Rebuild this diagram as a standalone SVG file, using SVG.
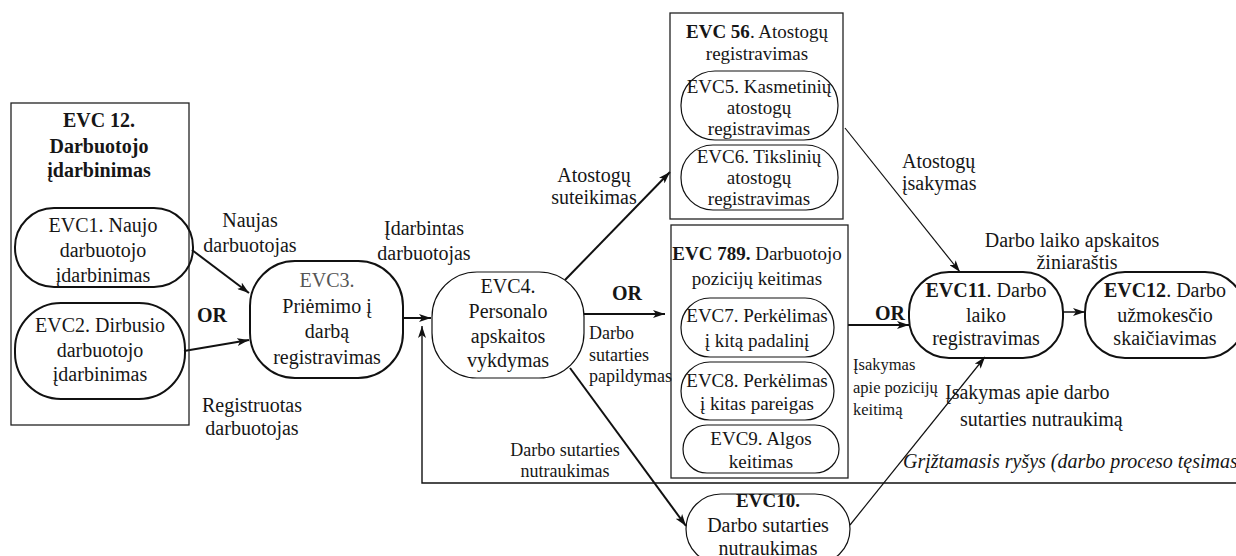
<svg xmlns="http://www.w3.org/2000/svg" width="1236" height="556" viewBox="0 0 1236 556" font-family="'Liberation Serif', 'Times New Roman', serif">
  <defs>
    <marker id="ah" viewBox="0 0 12 8" refX="12" refY="4" markerWidth="12" markerHeight="8" markerUnits="userSpaceOnUse" orient="auto">
      <path d="M0,0 L12,4 L0,8 L3,4 z" fill="#111"/>
    </marker>
    <style>
      text { font-family: 'Liberation Serif', 'Times New Roman', serif; font-size: 20px; fill: #161616; text-anchor: middle; }
      .s { font-size: 19px; }
      .xs { font-size: 18px; }
      .sm { font-size: 16.5px; }
      .l { text-anchor: start; }
      .b { font-weight: bold; }
      .i { font-style: italic; }
      .g { fill: #555; }
      .frame { fill: none; stroke: #222; stroke-width: 1.3; }
      .thick { fill: none; stroke: #111; stroke-width: 2; }
      .thin { fill: none; stroke: #111; stroke-width: 1.2; }
      .c2 { fill: none; stroke: #111; stroke-width: 2; marker-end: url(#ah); }
      .c1 { fill: none; stroke: #111; stroke-width: 1.2; marker-end: url(#ah); }
    </style>
  </defs>

  <rect width="1236" height="556" fill="#fff"/>

  <!-- connectors -->
  <g id="connectors">
    <path class="c2" d="M192,250 L249,293"/>
    <path class="c2" d="M184,351 L249,340"/>
    <path class="c2" d="M403,318 L431,318"/>
    <path class="c1" style="stroke-width:1.4" d="M1240,483 L422,483 L422,326"/>
    <path class="c2" d="M565,280 L670,172"/>
    <path class="c2" d="M584,314 L665,314"/>
    <path class="c2" d="M570,368 L686,526"/>
    <path class="c2" d="M848,325 L909,325"/>
    <path class="c1" d="M845,128 L960,272"/>
    <path class="c1" d="M850,525 L985,357"/>
    <path class="c1" style="stroke-width:1.5" d="M1063,312 L1085,312"/>
  </g>

  <!-- connector labels -->
  <g id="labels">
    <text x="250" y="227">Naujas</text>
    <text x="250" y="252">darbuotojas</text>
    <text class="b l" x="197" y="322">OR</text>
    <text x="252" y="412">Registruotas</text>
    <text x="252" y="435">darbuotojas</text>
    <text x="424" y="235">Įdarbintas</text>
    <text x="424" y="260">darbuotojas</text>
    <text x="594" y="182">Atostogų</text>
    <text x="594" y="204">suteikimas</text>
    <text class="b l" x="612" y="300">OR</text>
    <text class="xs l" x="589" y="339">Darbo</text>
    <text class="xs l" x="589" y="361">sutarties</text>
    <text class="xs l" x="589" y="382">papildymas</text>
    <text class="xs" x="565" y="456">Darbo sutarties</text>
    <text class="xs" x="565" y="477">nutraukimas</text>
    <text class="l" x="902" y="168">Atostogų</text>
    <text class="l" x="902" y="190">įsakymas</text>
    <text x="1072" y="247">Darbo laiko apskaitos</text>
    <text x="1077" y="269">žiniaraštis</text>
    <text class="b l" x="875" y="320">OR</text>
    <text class="sm l" x="853" y="370">Įsakymas</text>
    <text class="sm l" x="853" y="393">apie pozicijų</text>
    <text class="sm l" x="853" y="415">keitimą</text>
    <text class="l" x="945" y="399">Įsakymas apie darbo</text>
    <text class="l" x="960" y="426">sutarties nutraukimą</text>
    <text class="i l" x="903" y="468">Grįžtamasis ryšys (darbo proceso tęsimas)</text>
  </g>

  <!-- EVC 12 group frame -->
  <g id="evc12-group">
    <rect class="frame" x="11" y="103" width="178" height="322"/>
    <text class="b" x="99" y="127">EVC 12.</text>
    <text class="b" x="99" y="153">Darbuotojo</text>
    <text class="b" x="99" y="177">įdarbinimas</text>
  </g>

  <g id="evc1">
    <rect class="thick" x="15" y="208" width="178" height="79" rx="39" ry="39"/>
    <text x="103" y="232">EVC1. Naujo</text>
    <text x="103" y="257">darbuotojo</text>
    <text x="103" y="282">įdarbinimas</text>
  </g>

  <g id="evc2">
    <rect class="thick" x="15" y="303" width="170" height="96" rx="46" ry="46"/>
    <text x="100" y="332">EVC2. Dirbusio</text>
    <text x="100" y="357">darbuotojo</text>
    <text x="100" y="381">įdarbinimas</text>
  </g>

  <g id="evc3">
    <rect class="thick" x="250" y="261" width="153" height="117" rx="45" ry="45"/>
    <text class="g" x="327" y="287">EVC3.</text>
    <text x="327" y="313">Priėmimo į</text>
    <text x="327" y="338">darbą</text>
    <text x="327" y="364">registravimas</text>
  </g>

  <g id="evc4">
    <rect class="thin" x="432" y="272" width="152" height="106" rx="45" ry="45"/>
    <text x="508" y="293">EVC4.</text>
    <text x="508" y="318">Personalo</text>
    <text x="508" y="343">apskaitos</text>
    <text x="508" y="367">vykdymas</text>
  </g>

  <!-- EVC 56 group frame -->
  <g id="evc56-group">
    <rect class="frame" x="670" y="13" width="173" height="206"/>
    <text class="s" x="757" y="38"><tspan class="b">EVC 56</tspan>. Atostogų</text>
    <text class="s" x="757" y="60">registravimas</text>
  </g>

  <g id="evc5">
    <rect class="thin" x="681" y="71" width="157" height="69" rx="34" ry="34"/>
    <text class="s" x="759" y="93">EVC5. Kasmetinių</text>
    <text class="s" x="759" y="114">atostogų</text>
    <text class="s" x="759" y="135">registravimas</text>
  </g>

  <g id="evc6">
    <rect class="thin" x="681" y="145" width="157" height="65" rx="32" ry="32"/>
    <text class="s" x="759" y="163">EVC6. Tikslinių</text>
    <text class="s" x="759" y="184">atostogų</text>
    <text class="s" x="759" y="205">registravimas</text>
  </g>

  <!-- EVC 789 group frame -->
  <g id="evc789-group">
    <rect class="frame" x="671" y="225" width="177" height="253"/>
    <text class="s" x="757" y="260"><tspan class="b">EVC 789.</tspan> Darbuotojo</text>
    <text class="s" x="757" y="285">pozicijų keitimas</text>
  </g>

  <g id="evc7">
    <rect class="thin" x="681" y="298" width="153" height="59" rx="29" ry="29"/>
    <text class="s" x="757" y="322">EVC7. Perkėlimas</text>
    <text class="s" x="757" y="347">į kitą padalinį</text>
  </g>

  <g id="evc8">
    <rect class="thin" x="681" y="362" width="153" height="58" rx="29" ry="29"/>
    <text class="s" x="757" y="387">EVC8. Perkėlimas</text>
    <text class="s" x="757" y="410">į kitas pareigas</text>
  </g>

  <g id="evc9">
    <rect class="thin" x="683" y="425" width="156" height="48" rx="24" ry="24"/>
    <text class="s" x="761" y="445">EVC9. Algos</text>
    <text class="s" x="761" y="468">keitimas</text>
  </g>

  <g id="evc10">
    <rect class="thin" x="686" y="494" width="164" height="70" rx="35" ry="35"/>
    <text class="s b" x="768" y="507">EVC10.</text>
    <text x="768" y="532">Darbo sutarties</text>
    <text x="768" y="555">nutraukimas</text>
  </g>

  <g id="evc11">
    <rect class="thick" x="909" y="272" width="154" height="86" rx="40" ry="40"/>
    <text x="986" y="297"><tspan class="b">EVC11</tspan>. Darbo</text>
    <text x="986" y="322">laiko</text>
    <text x="986" y="345">registravimas</text>
  </g>

  <g id="evc12">
    <rect class="thick" x="1085" y="272" width="160" height="86" rx="40" ry="40"/>
    <text x="1165" y="297"><tspan class="b">EVC12</tspan>. Darbo</text>
    <text x="1165" y="322">užmokesčio</text>
    <text x="1165" y="345">skaičiavimas</text>
  </g>
</svg>
